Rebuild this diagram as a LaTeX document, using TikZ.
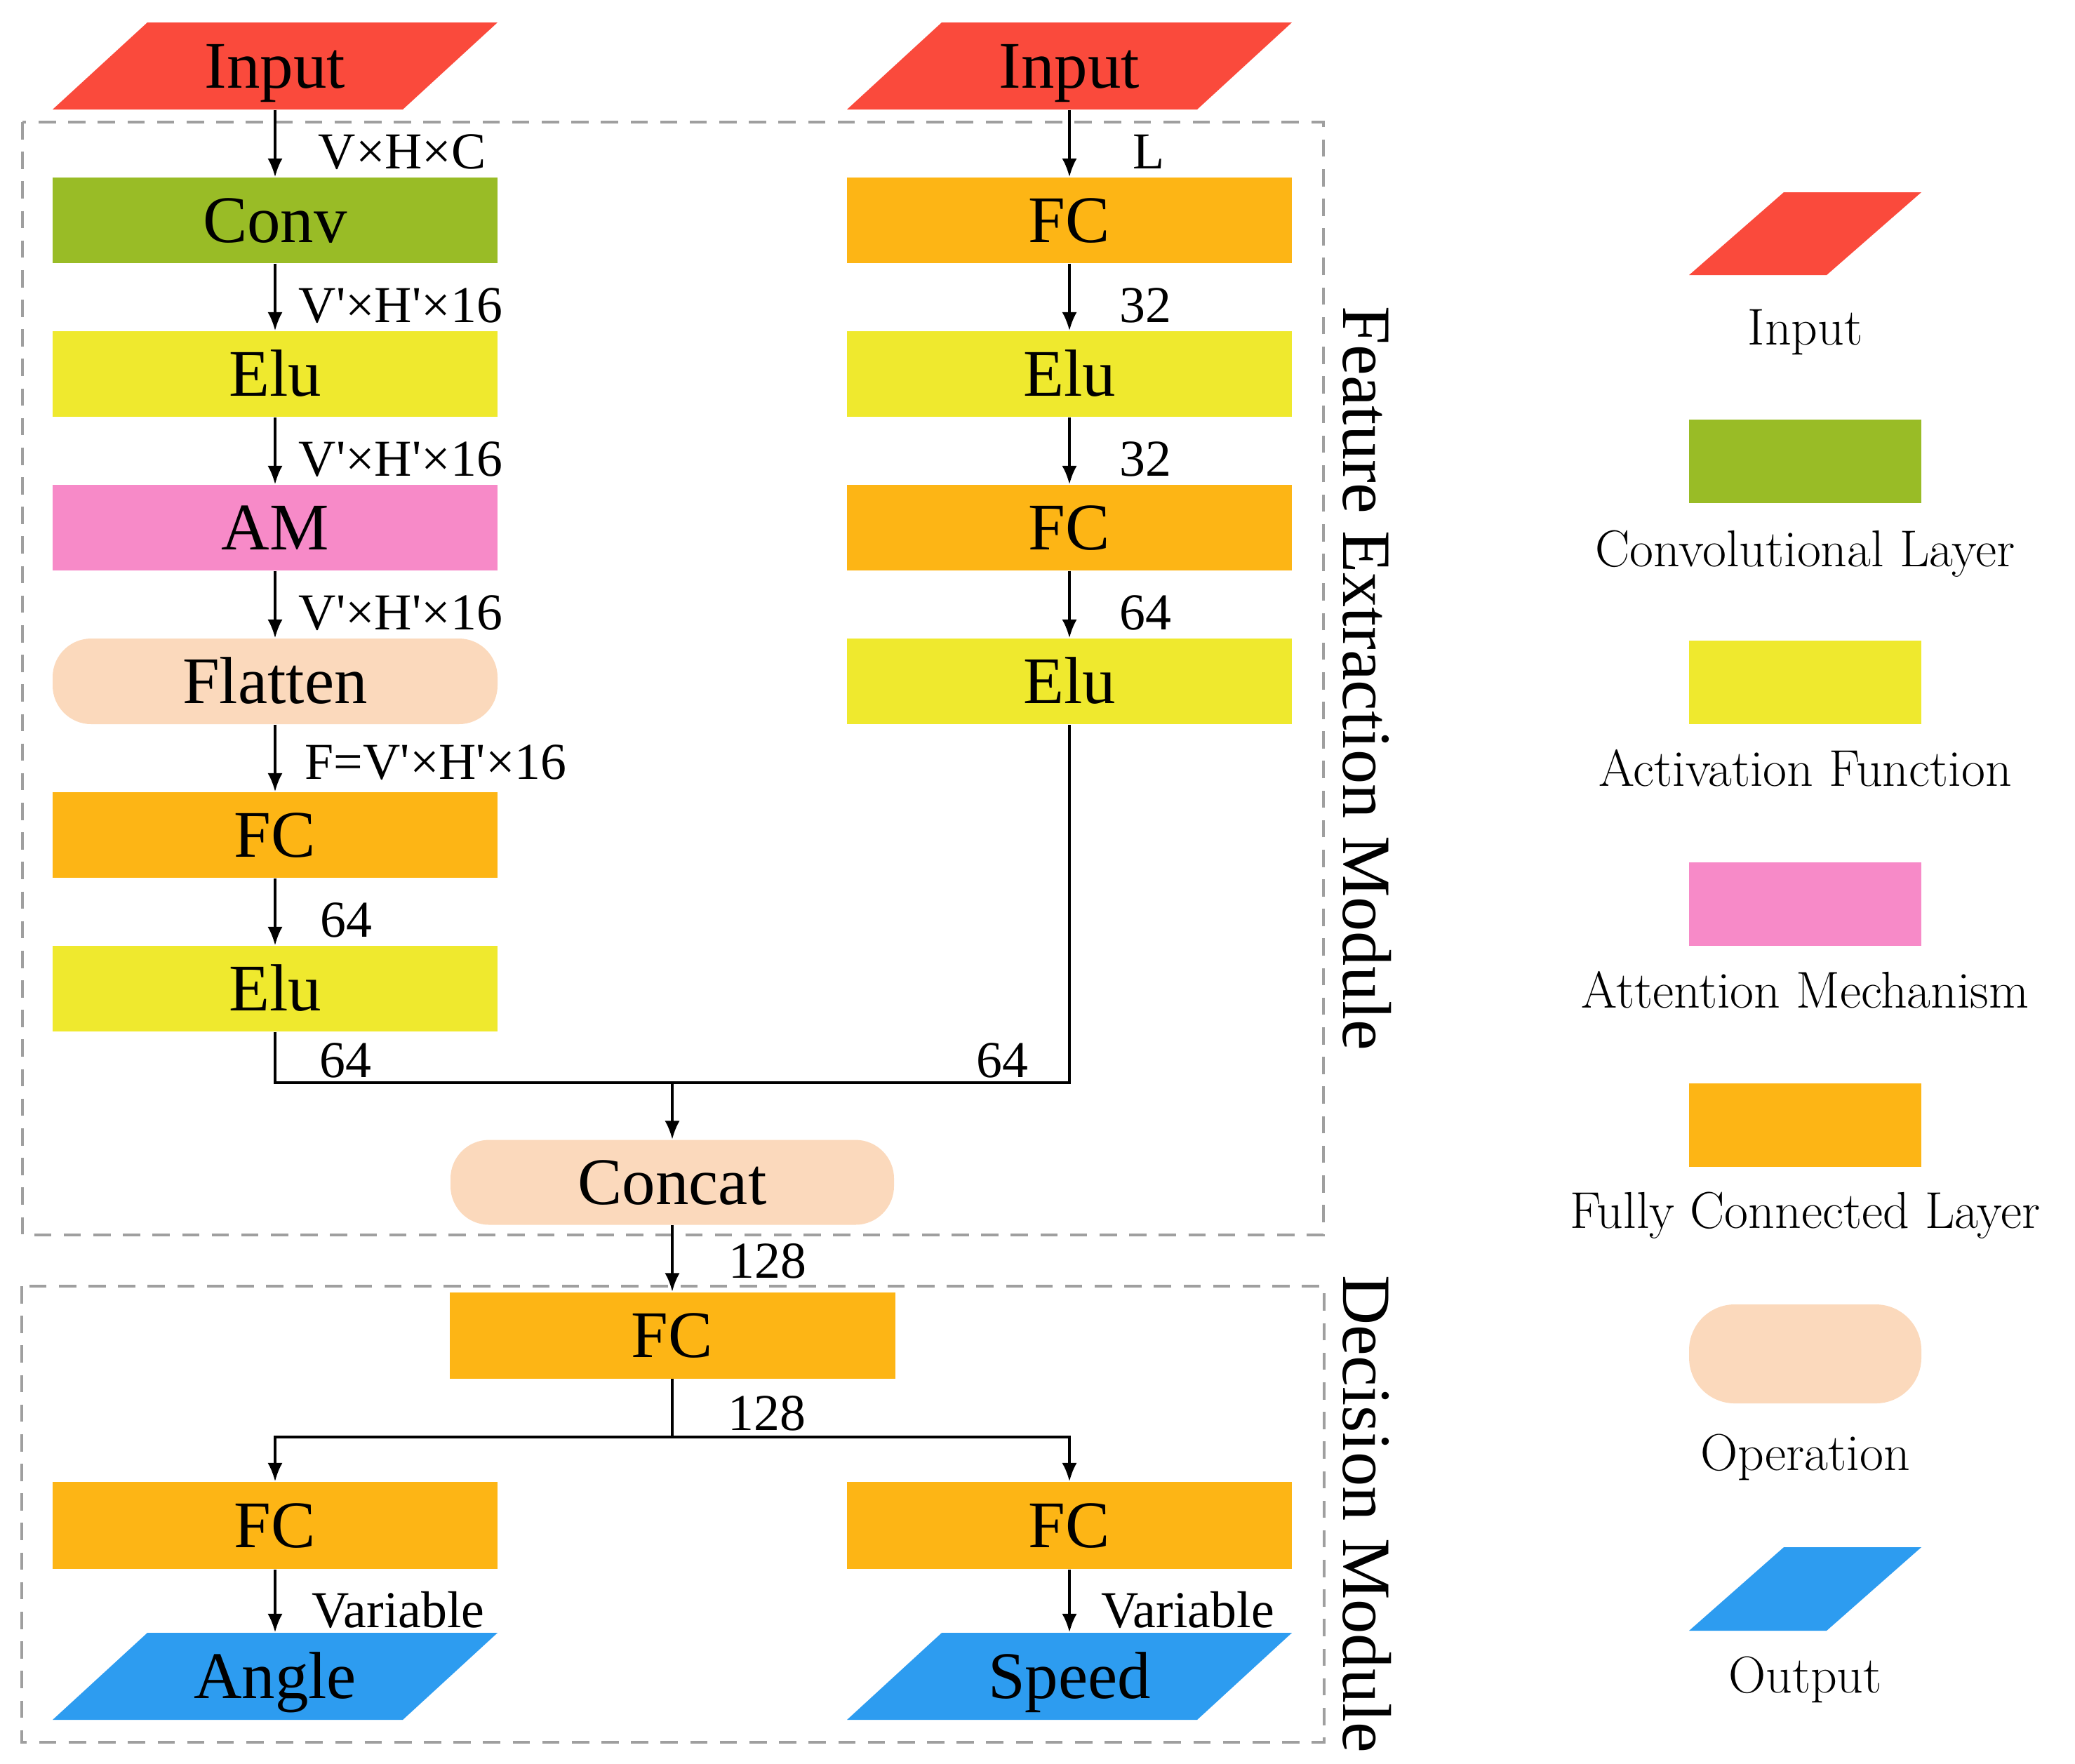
\documentclass[tikz,border=0pt]{standalone}
\usepackage{fontspec}
\usetikzlibrary{arrows.meta,calc}
\newfontfamily\diafont{Liberation Serif}
\newcommand{\blkfont}{\diafont\fontsize{27}{30}\selectfont}
\newcommand{\lblfont}{\diafont\fontsize{21}{24}\selectfont}
\newcommand{\modfont}{\diafont\fontsize{28}{30}\selectfont}
\newcommand{\lgdfont}{\fontsize{21}{24}\selectfont}
\newcommand{\prm}{\textquotesingle}

\definecolor{cinput}{RGB}{250,74,60}
\definecolor{cconv}{RGB}{153,188,38}
\definecolor{cact}{RGB}{239,233,46}
\definecolor{catt}{RGB}{247,138,200}
\definecolor{cfc}{RGB}{253,181,21}
\definecolor{cop}{RGB}{251,217,188}
\definecolor{cout}{RGB}{45,156,240}

\tikzset{
  blk/.style={rectangle, fill=#1, minimum width=6.34cm, minimum height=1.22cm,
    inner sep=0pt, text height=18pt, text depth=0pt, font=\blkfont},
  opr/.style={blk=#1, rounded corners=0.55cm},
  para/.style={rectangle, minimum width=6.34cm, minimum height=1.24cm,
    inner sep=0pt, text height=18pt, text depth=0pt, font=\blkfont,
    path picture={\fill[#1] (path picture bounding box.south west)
      -- ([xshift=-1.35cm]path picture bounding box.south east)
      -- (path picture bounding box.north east)
      -- ([xshift=1.35cm]path picture bounding box.north west) -- cycle;}},
  lgd/.style={minimum width=3.31cm, minimum height=1.19cm},
  flow/.style={line width=1pt, -{Latex[length=7.5pt,width=6pt]}},
  wire/.style={line width=1pt},
  lbl/.style={font=\lblfont, anchor=base west, inner sep=0pt},
  lgdtxt/.style={font=\lgdfont, anchor=base, inner sep=0pt},
  modlbl/.style={font=\modfont, rotate=-90, anchor=base, inner sep=0pt},
  frame/.style={draw=gray!75, line width=0.9pt, dash pattern=on 7pt off 5pt}
}

\begin{document}
\begin{tikzpicture}
  \useasboundingbox (0,0) rectangle (29.57,-25.13);

  % module frames
  \draw[frame] (0.32,-1.74) rectangle (18.86,-17.60);
  \draw[frame] (0.31,-18.33) rectangle (18.87,-24.83);
  \node[modlbl] (mfeat) at (19.14,-9.67) {Feature Extraction Module};
  \node[modlbl] (mdec) at (19.14,-21.58) {Decision Module};

  % left branch
  \node[para=cinput] (in1) at (3.92,-0.94) {Input};
  \node[blk=cconv] (conv) at (3.92,-3.14) {Conv};
  \node[blk=cact] (elu1) at (3.92,-5.33) {Elu};
  \node[blk=catt] (am) at (3.92,-7.52) {AM};
  \node[opr=cop] (flat) at (3.92,-9.71) {Flatten};
  \node[blk=cfc] (fc1) at (3.92,-11.90) {FC};
  \node[blk=cact] (elu2) at (3.92,-14.09) {Elu};

  % right branch
  \node[para=cinput] (in2) at (15.24,-0.94) {Input};
  \node[blk=cfc] (fc2) at (15.24,-3.14) {FC};
  \node[blk=cact] (elu3) at (15.24,-5.33) {Elu};
  \node[blk=cfc] (fc3) at (15.24,-7.52) {FC};
  \node[blk=cact] (elu4) at (15.24,-9.71) {Elu};

  % merge and decision
  \coordinate (mrg) at (9.58,-15.43);
  \node[opr=cop, minimum width=6.32cm, minimum height=1.21cm] (concat) at (9.58,-16.85) {Concat};
  \node[blk=cfc, minimum width=6.35cm, minimum height=1.23cm] (fcm) at (9.58,-19.03) {FC};
  \coordinate (brn) at (9.58,-20.48);
  \node[blk=cfc, minimum height=1.24cm] (fca) at (3.92,-21.74) {FC};
  \node[blk=cfc, minimum height=1.24cm] (fcs) at (15.24,-21.74) {FC};
  \node[para=cout] (ang) at (3.92,-23.89) {Angle};
  \node[para=cout] (spd) at (15.24,-23.89) {Speed};

  % connectors
  \draw[flow] (in1) -- node[lbl, pos=1, xshift=6mm, yshift=1.2mm] (d1) {V×H×C} (conv);
  \draw[flow] (conv) -- node[lbl, pos=1, xshift=3.2mm, yshift=1.2mm] (d2) {V\prm×H\prm×16} (elu1);
  \draw[flow] (elu1) -- node[lbl, pos=1, xshift=3.2mm, yshift=1.2mm] (d3) {V\prm×H\prm×16} (am);
  \draw[flow] (am) -- node[lbl, pos=1, xshift=3.2mm, yshift=1.2mm] (d4) {V\prm×H\prm×16} (flat);
  \draw[flow] (flat) -- node[lbl, pos=1, xshift=4.1mm, yshift=1.8mm] (d5) {F=V\prm×H\prm×16} (fc1);
  \draw[flow] (fc1) -- node[lbl, pos=1, xshift=6.3mm, yshift=1.2mm] (d6) {64} (elu2);
  \draw[flow] (in2) -- node[lbl, pos=1, xshift=8.9mm, yshift=1.2mm] (d7) {L} (fc2);
  \draw[flow] (fc2) -- node[lbl, pos=1, xshift=7mm, yshift=1.2mm] (d8) {32} (elu3);
  \draw[flow] (elu3) -- node[lbl, pos=1, xshift=7mm, yshift=1.2mm] (d9) {32} (fc3);
  \draw[flow] (fc3) -- node[lbl, pos=1, xshift=7mm, yshift=1.2mm] (d10) {64} (elu4);

  \draw[wire] (elu2) |- (mrg) -| (elu4);
  \node[lbl] (d11) at ($(elu2 |- mrg)+(0.63,0.08)$) {64};
  \node[lbl, anchor=base east] (d12) at ($(elu4 |- mrg)+(-0.58,0.08)$) {64};
  \draw[flow] (mrg) -- (concat);

  \draw[flow] (concat) -- node[lbl, pos=1, xshift=7.9mm, yshift=1.9mm] (d13) {128} (fcm);
  \draw[wire] (fcm) -- (brn);
  \node[lbl] (d14) at ($(brn)+(0.79,0.10)$) {128};
  \draw[flow] (brn) -| (fca);
  \draw[flow] (brn) -| (fcs);
  \draw[flow] (fca) -- node[lbl, pos=1, xshift=5.1mm, yshift=0.7mm] (d15) {Variable} (ang);
  \draw[flow] (fcs) -- node[lbl, pos=1, xshift=4.4mm, yshift=0.7mm] (d16) {Variable} (spd);

  % legend
  \node[para=cinput, lgd, minimum height=1.18cm] (lgin) at (25.725,-3.33) {};
  \node[lgdtxt] (tin) at (25.725,-4.91) {Input};
  \node[blk=cconv, lgd] (lgconv) at (25.725,-6.575) {};
  \node[lgdtxt] (tconv) at (25.725,-8.07) {Convolutional Layer};
  \node[blk=cact, lgd] (lgact) at (25.725,-9.725) {};
  \node[lgdtxt] (tact) at (25.725,-11.20) {Activation Function};
  \node[blk=catt, lgd] (lgatt) at (25.725,-12.885) {};
  \node[lgdtxt] (tatt) at (25.725,-14.36) {Attention Mechanism};
  \node[blk=cfc, lgd] (lgfc) at (25.725,-16.035) {};
  \node[lgdtxt] (tfc) at (25.725,-17.50) {Fully Connected Layer};
  \node[opr=cop, lgd, minimum height=1.41cm, rounded corners=0.65cm] (lgop) at (25.725,-19.295) {};
  \node[lgdtxt] (top) at (25.725,-20.95) {Operation};
  \node[para=cout, lgd] (lgout) at (25.725,-22.645) {};
  \node[lgdtxt] (tout) at (25.725,-24.12) {Output};
\end{tikzpicture}
\end{document}
